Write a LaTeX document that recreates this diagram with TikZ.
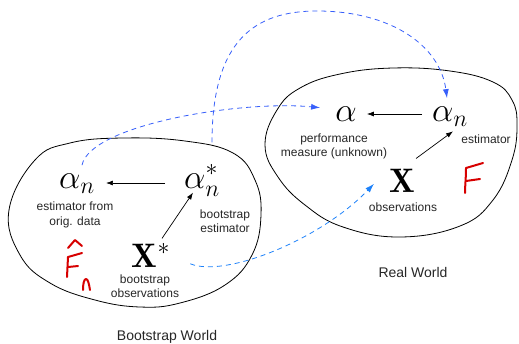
\RequirePackage{fix-cm}
\documentclass[tikz,border=0pt]{standalone}
\usepackage{amsmath}
\usepackage{fontspec}
\newfontfamily\labelfont{Liberation Sans}
\usetikzlibrary{arrows.meta}
\definecolor{penred}{RGB}{215,0,0}
\definecolor{jumpblue}{RGB}{55,95,250}
\definecolor{skyblue}{RGB}{30,130,250}

\begin{document}
\begin{tikzpicture}[x=1pt,y=-1pt,
    sym/.style={inner sep=1pt,font=\fontsize{34}{40}\selectfont},
    lbl/.style={align=center,text=black!85,font=\labelfont\fontsize{12}{14.5}\selectfont},
    ttl/.style={text=black!85,font=\labelfont\fontsize{14}{16}\selectfont},
    blob/.style={line width=0.8pt},
    link/.style={line width=0.7pt,-{Latex[length=7pt,width=5pt]}},
    jump/.style={dash pattern=on 5pt off 4pt,line width=0.8pt,-{Latex[length=9pt,width=6pt]}},
    pen/.style={draw=penred,line width=2pt,line cap=round,line join=round}]
    \useasboundingbox (0,0) rectangle (519,343);
    % the two worlds
    \draw[blob] plot[smooth cycle,tension=0.7] coordinates {(9,210) (35,160) (70,143) (123,138) (185,141) (233,153) (255,180) (261,215) (252,255) (225,285) (180,303) (140,307) (95,300) (50,283) (20,255)};
    \draw[blob] plot[smooth cycle,tension=0.7] coordinates {(265,145) (277,110) (300,88) (340,74) (393,68) (450,71) (493,82) (512,100) (517,125) (512,160) (493,200) (460,226) (400,237) (343,227) (305,205) (278,177)};
    % symbols
    \node[sym,anchor=base] (an) at (77,188) {$\alpha_n$};
    \node[sym,anchor=base] (ans) at (202,188) {$\alpha_n^*$};
    \node[sym,anchor=base] (xs) at (151,267) {$\mathbf{X}^*$};
    \node[sym,anchor=base] (al) at (346,121) {$\alpha$};
    \node[sym,anchor=base] (anr) at (450,121) {$\alpha_n$};
    \node[sym,anchor=base] (xr) at (402,192) {$\mathbf{X}$};
    % labels
    \node[lbl] (an-l) at (75,215) {estimator from\\orig. data};
    \node[lbl] (ans-l) at (225,221) {bootstrap\\estimator};
    \node[lbl] (xs-l) at (145,286) {bootstrap\\observations};
    \node[lbl] (al-l) at (334,146.5) {performance\\measure (unknown)};
    \node[lbl] (anr-l) at (486,139) {estimator};
    \node[lbl] (xr-l) at (403,207) {observations};
    \node[ttl,anchor=base] (bw) at (167,340) {Bootstrap World};
    \node[ttl,anchor=base] (rw) at (413,277) {Real World};
    % arrows inside
    \draw[link,shorten <=18pt,shorten >=10pt] ([yshift=5pt]ans.base west) -- ([yshift=5pt]an.base east);
    \draw[link] ([xshift=11pt,yshift=4pt]xs.north) -- ([xshift=-9pt,yshift=5pt]ans.south);
    \draw[link,shorten <=9pt,shorten >=9pt] ([yshift=7pt]anr.base west) -- ([yshift=7pt]al.base east);
    \draw[link] ([yshift=9pt]xr.north east) -- ([xshift=3pt,yshift=-4pt]anr.south);
    % between worlds
    \draw[jump,jumpblue] ([xshift=5pt,yshift=7pt]an.north) .. controls (90,125) and (240,100) .. ([xshift=-14pt,yshift=6pt]al.west);
    \draw[jump,jumpblue] ([xshift=10pt,yshift=21pt]ans.north) .. controls (212,40) and (255,11) .. (317,11) .. controls (390,11) and (440,45) .. ([xshift=-3pt,yshift=7pt]anr.north);
    \draw[jump,skyblue] ([xshift=19pt,yshift=-8.5pt]xs.east) .. controls (225,278) and (320,240) .. ([xshift=-14pt,yshift=-3.5pt]xr.west);
    % handwriting
    \draw[pen] (68,248) -- (75,240) -- (82,246);
    \draw[pen] (68,257) -- (67,277);
    \draw[pen] (68,257) -- (82,253);
    \draw[pen] (68,267) -- (78,266);
    \draw[pen] (83,290) .. controls (83,284) and (84,279) .. (86,279) .. controls (88,279) and (89,284) .. (90,290);
    \draw[pen] (466,168) .. controls (466,178) and (465,186) .. (465,193);
    \draw[pen] (466,168) -- (483,163);
    \draw[pen] (466,181) -- (480,179);
\end{tikzpicture}
\end{document}
